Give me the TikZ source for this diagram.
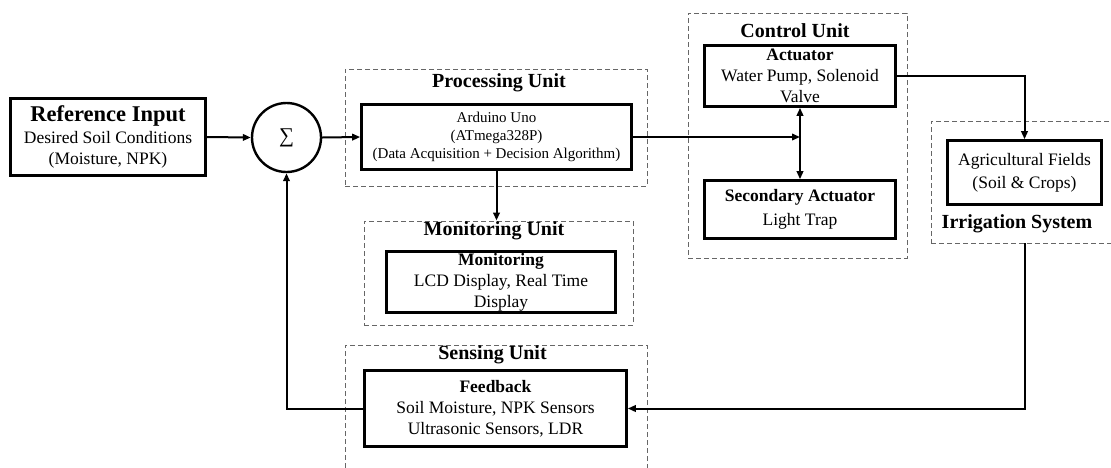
\documentclass[tikz,border=0pt]{standalone}
\usepackage{fontspec}
\setmainfont{Liberation Serif}
\usetikzlibrary{arrows.meta}

\begin{document}
\begin{tikzpicture}[x=1pt,y=-1pt,
  blk/.style={draw,line width=2.6pt,align=center,inner sep=0pt,
              font=\fontsize{17.5}{21}\selectfont},
  grp/.style={draw=black!60,line width=0.9pt,dash pattern=on 5pt off 3pt,
              inner sep=0pt},
  ttl/.style={font=\fontsize{20}{24}\selectfont\bfseries,inner sep=0pt},
  sumnode/.style={circle,draw,line width=2.4pt,minimum size=69pt,inner sep=0pt},
  arr/.style={line width=2pt,-{Triangle[length=8pt,width=6.5pt]}},
  dbl/.style={line width=2pt,{Triangle[length=8pt,width=6.5pt]}-{Triangle[length=8pt,width=6.5pt]}}]

\useasboundingbox (0,0) rectangle (1111,467);

% dashed unit frames
\node[grp,minimum width=302pt,minimum height=117pt] (procgrp) at (496,127.5) {};
\node[grp,minimum width=269pt,minimum height=104pt] (mongrp) at (498.5,273) {};
\node[grp,minimum width=302pt,minimum height=150pt] (sensgrp) at (496,420) {};
\node[grp,minimum width=219pt,minimum height=245pt] (ctrlgrp) at (797.5,135.5) {};
\node[grp,minimum width=200pt,minimum height=122pt] (irrgrp) at (1031,182) {};

% frame titles
\node[ttl] (proctitle) at (499,83) {Processing Unit};
\node[ttl] (montitle) at (494,231) {Monitoring Unit};
\node[ttl] (senstitle) at (492.5,355) {Sensing Unit};
\node[ttl] (ctrltitle) at (795,31) {Control Unit};
\node[ttl] (irrtitle) at (1017,224) {Irrigation System};

% blocks
\node[blk,minimum width=195pt,minimum height=77pt] (ref) at (108,137)
  {{\fontsize{22.5}{24}\selectfont\bfseries Reference Input}\\[1pt]
   Desired Soil Conditions\\ (Moisture, NPK)};
\node[sumnode,font=\fontsize{21}{24}\selectfont] (sum) at (286.5,137.5) {∑};
\node[blk,minimum width=270pt,minimum height=65pt,
      font=\fontsize{15}{18}\selectfont] (proc) at (496.5,137)
  {Arduino Uno\\ (ATmega328P)\\ (Data Acquisition + Decision Algorithm)};
\node[blk,minimum width=229pt,minimum height=61pt] (mon) at (501,282)
  {\textbf{Monitoring}\\ LCD Display, Real Time\\ Display};
\node[blk,minimum width=262pt,minimum height=76pt] (sens) at (495.5,408.5)
  {\textbf{Feedback}\\ Soil Moisture, NPK Sensors\\ Ultrasonic Sensors, LDR};
\node[blk,minimum width=191pt,minimum height=61pt] (act) at (800,76)
  {\textbf{Actuator}\\ Water Pump, Solenoid\\ Valve};
\node[blk,minimum width=191pt,minimum height=58pt] (sec) at (800,209.5)
  {\textbf{Secondary Actuator}\\[3pt] Light Trap};
\node[blk,minimum width=154pt,minimum height=64pt] (fields) at (1024.5,172.5)
  {Agricultural Fields\\[2pt] (Soil \& Crops)};

% signal flow
\coordinate (junc) at (act.south |- proc.east);
\draw[arr] (ref.east) -- (sum.west);
\draw[arr] (sum.east) -- (proc.west);
\draw[arr] (proc.east) -- (junc);
\draw[dbl] (act.south) -- (sec.north);
\draw[arr] (proc.south) -- (proc.south |- mongrp.north);
\draw[arr] (act.east) -| (fields.north);
\draw[arr] (fields.south |- irrgrp.south) |- (sens.east);
\draw[arr] (sens.west) -| (sum.south);

\end{tikzpicture}
\end{document}
